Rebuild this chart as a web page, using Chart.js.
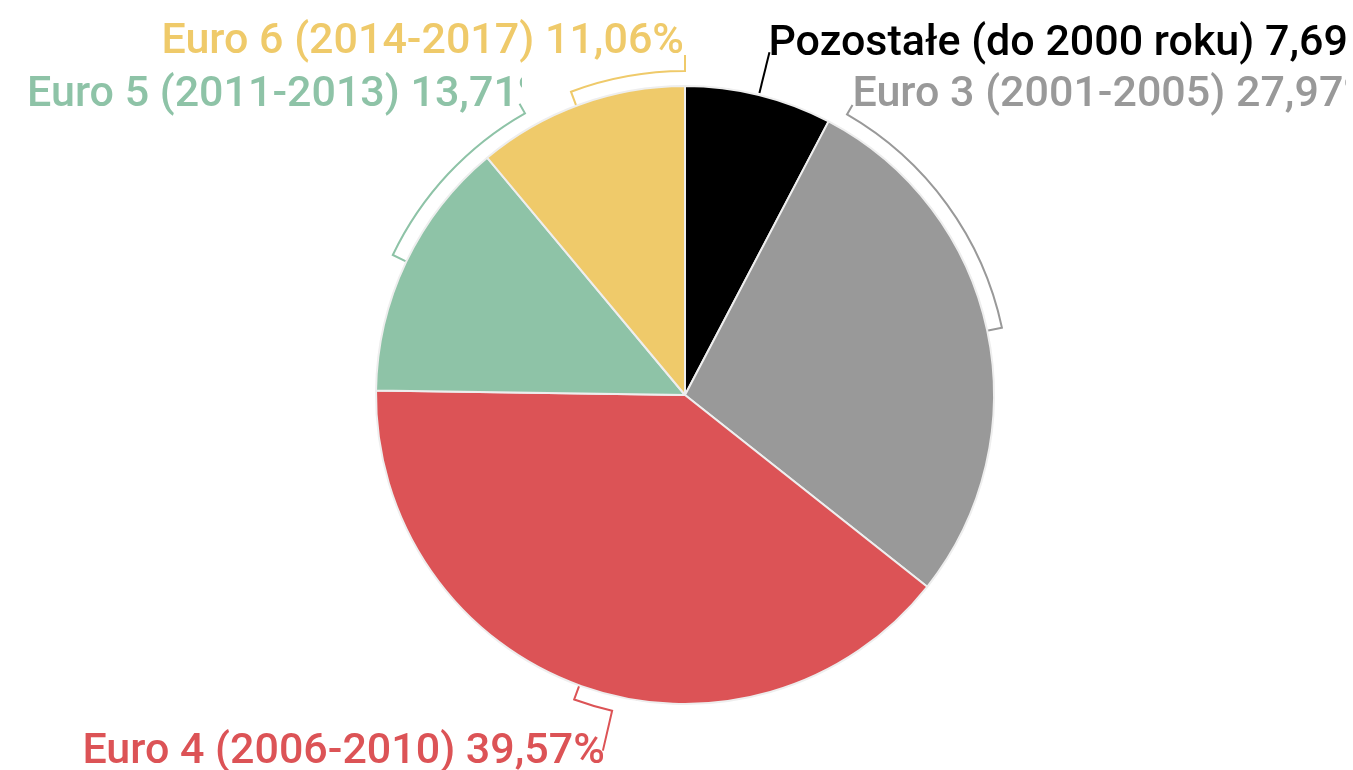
<!DOCTYPE html>
<html>
<head>
<meta charset="utf-8">
<script src="https://cdn.jsdelivr.net/npm/chart.js@4/dist/chart.umd.min.js"></script>
<style>
  html, body { margin: 0; padding: 0; background: #fff; }
  #wrap { width: 1353px; height: 770px; position: relative; }
</style>
</head>
<body>
<div id="wrap"><canvas id="euroPie"></canvas></div>
<script>
// dane: udział pojazdów wg normy emisji
const categories = ["Pozostałe (do 2000 roku)", "Euro 3 (2001-2005)", "Euro 4 (2006-2010)", "Euro 5 (2011-2013)", "Euro 6 (2014-2017)"];
const shares = [7.69, 27.97, 39.57, 13.71, 11.06];
const sliceColors = ["#000000", "#999999", "#dc5356", "#8ec3a7", "#efca6a"];

// klamry i linie prowadzące (kąty w stopniach od góry, zgodnie z zegarem)
const labelStyles = [
  { arc: null, leadFrom: 2, leadTo: 44, align: "left", dx: -1, dy: 3 },
  { arc: [30, 78], tickAt: 78, leadAt: 30, leadTo: 26, align: "left", dx: 0, dy: 1 },
  { arc: [193, 200], tickAt: 200, leadAt: 193, leadTo: 56, align: "right", dx: 2, dy: 12 },
  { arc: [295.6, 330.4], tickAt: 295.6, leadAt: 330.4, leadTo: 26, align: "right", dx: 30, dy: 2, clipAt: 2.5 },
  { arc: [339.4, 360], tickAt: 339.4, leadAt: 360, leadTo: 31, align: "right", dx: -1, dy: -2 },
];

const ARC_GAP = 15;
const LABEL_FONT = "500 43px Roboto";
const RIGHT_EDGE = 1346;

function formatShare(v) {
  return v.toFixed(2).replace(".", ",") + "%";
}

const sliceLabelPlugin = {
  id: "sliceLabels",
  afterDatasetsDraw(chart) {
    const ctx = chart.ctx;
    const arcs = chart.getDatasetMeta(0).data;
    const cx = arcs[0].x;
    const cy = arcs[0].y;
    const R = arcs[0].outerRadius;
    const pt = (deg, r) => {
      const a = ((deg - 90) * Math.PI) / 180;
      return [cx + r * Math.cos(a), cy + r * Math.sin(a)];
    };
    const toRad = (deg) => ((deg - 90) * Math.PI) / 180;

    ctx.save();
    ctx.lineWidth = 2;
    ctx.font = LABEL_FONT;
    ctx.textBaseline = "alphabetic";

    labelStyles.forEach((s, i) => {
      const color = sliceColors[i];
      ctx.strokeStyle = color;
      ctx.fillStyle = color;
      let end;

      if (!s.arc) {
        // linia prowadząca ze środka wycinka
        const mid = (((arcs[i].startAngle + arcs[i].endAngle) / 2) * 180) / Math.PI + 90;
        const a = pt(mid, R + s.leadFrom);
        end = pt(mid, R + s.leadTo);
        ctx.beginPath();
        ctx.moveTo(a[0], a[1]);
        ctx.lineTo(end[0], end[1]);
        ctx.stroke();
      } else {
        const rArc = R + ARC_GAP;
        const t0 = pt(s.tickAt, R + 1);
        const t1 = pt(s.tickAt, rArc);
        end = pt(s.leadAt, R + s.leadTo);
        const ccw = s.tickAt > s.leadAt;
        ctx.beginPath();
        ctx.moveTo(t0[0], t0[1]);
        ctx.lineTo(t1[0], t1[1]);
        ctx.arc(cx, cy, rArc, toRad(s.tickAt), toRad(s.leadAt), ccw);
        ctx.lineTo(end[0], end[1]);
        ctx.stroke();
      }

      const text = categories[i] + " " + formatShare(shares[i]);
      const x = end[0] + s.dx;
      const y = end[1] + s.dy;
      ctx.save();
      ctx.beginPath();
      const clipRight = s.clipAt !== undefined ? end[0] + s.clipAt : RIGHT_EDGE;
      ctx.rect(0, 0, clipRight, chart.height);
      ctx.clip();
      ctx.textAlign = s.align;
      ctx.fillText(text, x, y);
      ctx.restore();
    });
    ctx.restore();
  },
};

new Chart(document.getElementById("euroPie"), {
  type: "pie",
  data: {
    labels: categories,
    datasets: [
      {
        data: shares,
        backgroundColor: sliceColors,
        borderColor: "#eeeeee",
        borderWidth: 2,
      },
    ],
  },
  options: {
    responsive: true,
    maintainAspectRatio: false,
    animation: false,
    layout: { padding: { top: 85, bottom: 65, left: 200, right: 183 } },
    plugins: {
      legend: { display: false },
      tooltip: { enabled: false },
    },
  },
  plugins: [sliceLabelPlugin],
});
</script>
</body>
</html>
